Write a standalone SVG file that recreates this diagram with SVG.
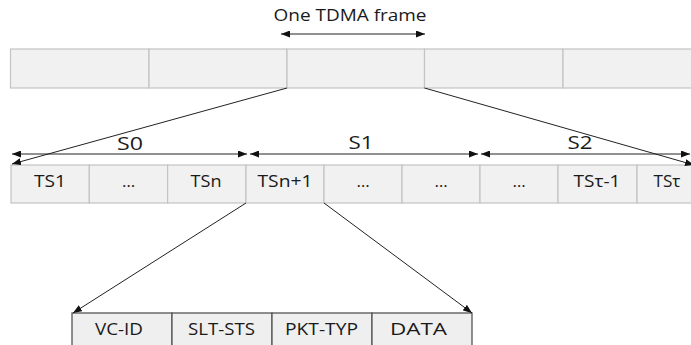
<svg xmlns="http://www.w3.org/2000/svg" width="691" height="345" viewBox="0 0 691 345">
<style>
.cell{fill:#f0f1f0;stroke:#c4c4c4;stroke-width:1.2}
.pcell{fill:#eeefee;stroke:#555;stroke-width:1.3}
.t{font-family:"Open Sans","Liberation Sans",sans-serif;fill:#1a1a1a;text-anchor:middle}
.ts{font-size:17px}
.s{font-size:18px}
.p{font-size:16px}
.c{stroke:#222;stroke-width:1;fill:none}
.ar{marker-end:url(#ah)}
.dar{marker-end:url(#ah);marker-start:url(#ah)}
</style>
<defs>
<marker id="ah" viewBox="0 0 9 7" refX="9" refY="3.5" markerWidth="9" markerHeight="7" markerUnits="userSpaceOnUse" orient="auto-start-reverse">
<path d="M0,0 L9,3.5 L0,7 z" fill="#111"/>
</marker>
</defs>
<rect width="691" height="345" fill="#fff"/>

<g id="frame-row">
<rect class="cell" x="10.5" y="49" width="138.5" height="39"/>
<rect class="cell" x="149" y="49" width="138" height="39"/>
<rect class="cell" x="287" y="49" width="137.5" height="39"/>
<rect class="cell" x="424.5" y="49" width="138.5" height="39"/>
<rect class="cell" x="563" y="49" width="138" height="39"/>
</g>

<g id="frame-label">
<text class="t" x="350" y="21" font-size="16" textLength="153" lengthAdjust="spacingAndGlyphs">One TDMA frame</text>
</g>

<g id="slot-row">
<rect class="cell" x="11" y="165" width="78.3" height="38"/>
<rect class="cell" x="89.3" y="165" width="78.3" height="38"/>
<rect class="cell" x="167.6" y="165" width="78.4" height="38"/>
<rect class="cell" x="246" y="165" width="78" height="38"/>
<rect class="cell" x="324" y="165" width="78" height="38"/>
<rect class="cell" x="402" y="165" width="78" height="38"/>
<rect class="cell" x="480" y="165" width="78" height="38"/>
<rect class="cell" x="558" y="165" width="79" height="38"/>
<rect class="cell" x="637" y="165" width="78" height="38"/>
<text class="t ts" x="50" y="187" textLength="32" lengthAdjust="spacingAndGlyphs">TS1</text>
<text class="t ts" x="128.5" y="187">…</text>
<text class="t ts" x="206" y="187" textLength="31" lengthAdjust="spacingAndGlyphs">TSn</text>
<text class="t ts" x="285" y="187" textLength="55" lengthAdjust="spacingAndGlyphs">TSn+1</text>
<text class="t ts" x="363" y="187">…</text>
<text class="t ts" x="441" y="187">…</text>
<text class="t ts" x="519" y="187">…</text>
<text class="t ts" x="597" y="187" textLength="47" lengthAdjust="spacingAndGlyphs">TSτ-1</text>
<text class="t ts" x="667" y="187" textLength="27" lengthAdjust="spacingAndGlyphs">TSτ</text>
</g>

<g id="superslot-labels">
<text class="t s" x="130" y="150" textLength="26" lengthAdjust="spacingAndGlyphs">S0</text>
<text class="t s" x="361" y="149" textLength="25" lengthAdjust="spacingAndGlyphs">S1</text>
<text class="t s" x="580" y="149" textLength="25" lengthAdjust="spacingAndGlyphs">S2</text>
</g>

<g id="packet">
<rect class="pcell" x="72" y="313" width="100" height="34"/>
<rect class="pcell" x="172" y="313" width="100" height="34"/>
<rect class="pcell" x="272" y="313" width="100" height="34"/>
<rect class="pcell" x="372" y="313" width="100" height="34"/>
<text class="t p" x="119" y="335" textLength="48" lengthAdjust="spacingAndGlyphs">VC-ID</text>
<text class="t p" x="221.5" y="335" textLength="67" lengthAdjust="spacingAndGlyphs">SLT-STS</text>
<text class="t p" x="321.5" y="335" textLength="73" lengthAdjust="spacingAndGlyphs">PKT-TYP</text>
<text class="t p" x="418.5" y="335" textLength="57" lengthAdjust="spacingAndGlyphs">DATA</text>
</g>

<g id="connectors">
<line class="c dar" x1="281" y1="34" x2="425" y2="34"/>
<line class="c dar" x1="12" y1="154" x2="247" y2="154"/>
<line class="c dar" x1="250" y1="154" x2="478" y2="154"/>
<line class="c dar" x1="481" y1="154" x2="690" y2="154"/>
<line class="c ar" x1="287" y1="88" x2="12" y2="164"/>
<line class="c ar" x1="424.5" y1="88" x2="694" y2="165"/>
<line class="c ar" x1="246" y1="203" x2="73" y2="313"/>
<line class="c ar" x1="324" y1="203" x2="472" y2="313"/>
</g>
</svg>
